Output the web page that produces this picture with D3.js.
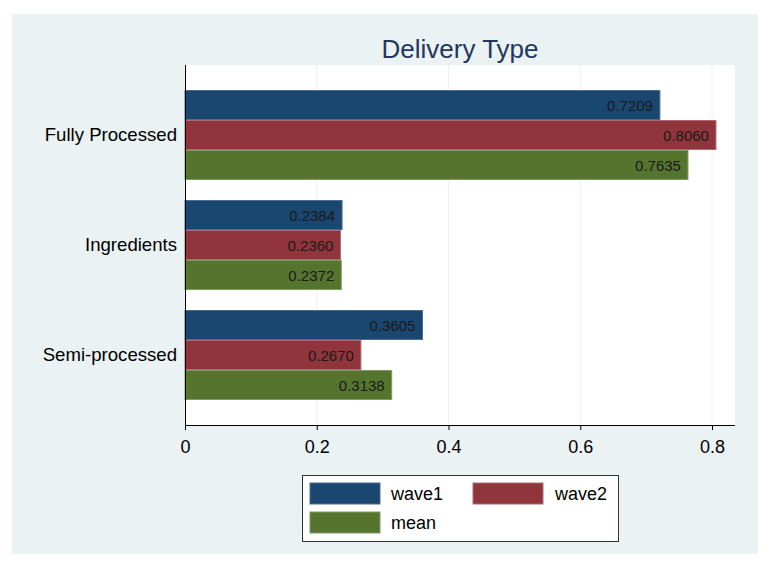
<!DOCTYPE html>
<html><head><meta charset="utf-8">
<script src="https://cdn.jsdelivr.net/npm/d3@7"></script>
<style>body{margin:0;background:#fff;}svg{display:block;font-family:"Liberation Sans",Arial,sans-serif;}</style>
</head><body>
<script>
const categories = ["Fully Processed", "Ingredients", "Semi-processed"];
const seriesNames = ["wave1", "wave2", "mean"];
const wave1 = [0.7209, 0.2384, 0.3605];
const wave2 = [0.8060, 0.2360, 0.2670];
const mean = [0.7635, 0.2372, 0.3138];
const xTicks = [0, 0.2, 0.4, 0.6, 0.8];
const colors = ["#1a476f", "#90353b", "#55752f"];
const edges = ["#4a6d8f", "#b06a70", "#7f9a63"];
const title = "Delivery Type";

const W = 769, H = 564;
const svg = d3.select("body").append("svg").attr("width", W).attr("height", H);
svg.append("rect").attr("x", 12).attr("y", 14).attr("width", 746).attr("height", 540).attr("fill", "#eaf2f3");

const L = 185, R = 735, T = 65, B = 425;
svg.append("rect").attr("x", L).attr("y", T).attr("width", R - L).attr("height", B - T).attr("fill", "#fff");

const x = d3.scaleLinear().domain([0, 0.8]).range([L, L + 527]);
const y0 = d3.scaleBand().domain(categories).range([T, B]).paddingInner(20/110).paddingOuter(25/110);
const y1 = d3.scaleBand().domain(seriesNames).range([0, y0.bandwidth()]);

// gridlines
svg.append("g").selectAll("line").data(xTicks.filter(d => d > 0)).join("line")
  .attr("x1", d => x(d)).attr("x2", d => x(d)).attr("y1", T).attr("y2", B)
  .attr("stroke", "#eaf2f3").attr("stroke-width", 1);

const data = seriesNames.map((s, i) => ({ s, i, vals: [wave1, wave2, mean][i] }));
const groups = svg.append("g");
categories.forEach((c, ci) => {
  const gy = y0(c);
  data.forEach(d => {
    const v = d.vals[ci];
    groups.append("rect")
      .attr("x", x(0)).attr("y", gy + y1(d.s) + 0.5)
      .attr("width", x(v) - x(0)).attr("height", y1.bandwidth() - 1)
      .attr("fill", colors[d.i]).attr("stroke", edges[d.i]).attr("stroke-width", 1);
    groups.append("text")
      .attr("x", x(v) - 7).attr("y", gy + y1(d.s) + y1.bandwidth() / 2 + 6)
      .attr("text-anchor", "end").attr("font-size", 15).attr("fill", "#1a1a1a")
      .text(v.toFixed(4));
  });
});

// axes
const xAxis = d3.axisBottom(x).tickValues(xTicks).tickFormat(d => d === 0 ? "0" : String(d)).tickSize(5).tickSizeOuter(0);
const gx = svg.append("g").attr("transform", `translate(0,${B})`).call(xAxis);
gx.select(".domain").attr("d", `M${L},0.5H${R}`).attr("stroke", "#000");
gx.selectAll(".tick line").attr("stroke", "#000");
gx.selectAll("text").attr("font-size", 18).attr("fill", "#000").attr("y", 12).attr("dy", "0.9em")
  .attr("font-family", "Liberation Sans, Arial, sans-serif");

const yAxis = d3.axisLeft(y0).tickSize(0).tickPadding(8);
const gy = svg.append("g").attr("transform", `translate(${L},0)`).call(yAxis);
gy.select(".domain").attr("d", `M0.5,${T}V${B}`).attr("stroke", "#000");
gy.selectAll("text").attr("font-size", 18.6).attr("fill", "#000")
  .attr("font-family", "Liberation Sans, Arial, sans-serif");

svg.append("text").attr("x", (L + R) / 2).attr("y", 58).attr("text-anchor", "middle")
  .attr("font-size", 26).attr("fill", "#24365e").text(title);

// legend
const lg = svg.append("g");
lg.append("rect").attr("x", 302.5).attr("y", 475.5).attr("width", 316).attr("height", 66)
  .attr("fill", "#fff").attr("stroke", "#333").attr("stroke-width", 1);
const pos = [[310, 483, 391], [473, 483, 555], [310, 512, 391]];
seriesNames.forEach((s, i) => {
  lg.append("rect").attr("x", pos[i][0]).attr("y", pos[i][1]).attr("width", 70).attr("height", 21)
    .attr("fill", colors[i]).attr("stroke", edges[i]);
  lg.append("text").attr("x", pos[i][2]).attr("y", pos[i][1] + 17).attr("font-size", 18).attr("fill", "#000").text(s);
});
</script>
</body></html>
